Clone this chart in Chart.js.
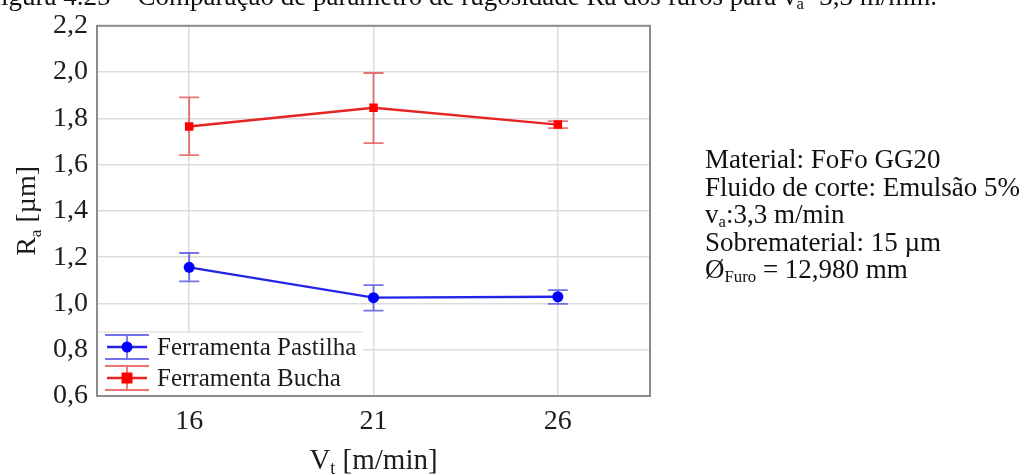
<!DOCTYPE html>
<html>
<head>
<meta charset="utf-8">
<script src="https://cdn.jsdelivr.net/npm/chart.js@4.4.1/dist/chart.umd.min.js"></script>
<style>
  body { margin: 0; background: #fff; }
  #wrap { position: relative; width: 1029px; height: 475px; overflow: hidden; font-family: "Liberation Serif", "Times New Roman", serif; }
  #caption { position: absolute; left: -14px; top: -17px; font-size: 27px; line-height: 27px; white-space: nowrap; color: #111; }
  #info { position: absolute; left: 705px; top: 146px; font-size: 27px; line-height: 27.5px; color: #111; white-space: nowrap; }
  sub { font-size: 0.62em; vertical-align: -0.25em; line-height: 0; }
  canvas { position: absolute; left: 0; top: 0; }
</style>
</head>
<body>
<div id="wrap">
  <canvas id="chart" width="1029" height="475"></canvas>
  <div id="caption">Figura 4.25 – Comparação de parâmetro de rugosidade Ra dos furos para v<sub>a</sub>=3,3 m/min.</div>
  <div id="info">
    Material: FoFo GG20<br>
    Fluido de corte: Emulsão 5%<br>
    v<sub>a</sub>:3,3 m/min<br>
    Sobrematerial: 15 µm<br>
    Ø<sub>Furo</sub> = 12,980 mm
  </div>
</div>
<script>
// cutting speed V_t [m/min]
const vt = [16, 21, 26];

// Ra [µm] means and error bar limits
const pastilha = [1.156, 1.025, 1.029];
const pastilhaLow = [1.095, 0.969, 0.998];
const pastilhaHigh = [1.218, 1.079, 1.058];

const bucha = [1.765, 1.846, 1.773];
const buchaLow = [1.641, 1.693, 1.758];
const buchaHigh = [1.891, 1.996, 1.788];

const serif = '"Liberation Serif", "Times New Roman", serif';
const textColor = '#1c1c1c';

function toPoints(ys) {
  return vt.map((x, i) => ({ x: x, y: ys[i] }));
}

// writes a label made of normal/subscript pieces, centred on (cx, cy)
function drawRich(ctx, parts, cx, cy, size, rotate) {
  ctx.save();
  ctx.translate(cx, cy);
  if (rotate) ctx.rotate(-Math.PI / 2);
  ctx.fillStyle = textColor;
  ctx.textBaseline = 'middle';
  ctx.textAlign = 'left';
  let total = 0;
  parts.forEach(p => {
    ctx.font = (p.sub ? size * 0.62 : size) + 'px ' + serif;
    p.w = ctx.measureText(p.t).width;
    total += p.w;
  });
  let x = -total / 2;
  parts.forEach(p => {
    ctx.font = (p.sub ? size * 0.62 : size) + 'px ' + serif;
    ctx.fillText(p.t, x, p.sub ? size * 0.3 : 0);
    x += p.w;
  });
  ctx.restore();
}

const errorBars = {
  id: 'errorBars',
  beforeDatasetsDraw(chart) {
    const { ctx, scales: { x, y } } = chart;
    chart.data.datasets.forEach(ds => {
      ctx.save();
      ctx.strokeStyle = ds.errColor;
      ctx.lineWidth = 1.8;
      ds.data.forEach((p, i) => {
        const px = x.getPixelForValue(p.x);
        const lo = y.getPixelForValue(ds.errLow[i]);
        const hi = y.getPixelForValue(ds.errHigh[i]);
        ctx.beginPath();
        ctx.moveTo(px, lo); ctx.lineTo(px, hi);
        ctx.moveTo(px - 10, lo); ctx.lineTo(px + 10, lo);
        ctx.moveTo(px - 10, hi); ctx.lineTo(px + 10, hi);
        ctx.stroke();
      });
      ctx.restore();
    });
  }
};

const frameAndLegend = {
  id: 'frameAndLegend',
  afterDraw(chart) {
    const { ctx, chartArea: a } = chart;
    ctx.save();

    // legend box in the lower left corner
    const lx = a.left, ly = a.bottom - 64, lw = 266, lh = 64;
    ctx.fillStyle = '#fff';
    ctx.fillRect(lx, ly, lw, lh);
    ctx.strokeStyle = '#d8d8d8';
    ctx.lineWidth = 1.2;
    ctx.beginPath();
    ctx.moveTo(lx, ly); ctx.lineTo(lx + lw, ly);
    ctx.stroke();

    chart.data.datasets.forEach((ds, i) => {
      const cy = ly + 15 + i * 31;
      const x0 = lx + 10, x1 = lx + 50, cx = (x0 + x1) / 2;
      ctx.strokeStyle = ds.errColor;
      ctx.lineWidth = 1.8;
      ctx.beginPath();
      ctx.moveTo(x0 - 2, cy - 12); ctx.lineTo(x1 + 2, cy - 12);
      ctx.moveTo(x0 - 2, cy + 12); ctx.lineTo(x1 + 2, cy + 12);
      ctx.moveTo(cx, cy - 12); ctx.lineTo(cx, cy + 12);
      ctx.stroke();
      ctx.strokeStyle = ds.borderColor;
      ctx.lineWidth = 2.4;
      ctx.beginPath();
      ctx.moveTo(x0, cy); ctx.lineTo(x1, cy);
      ctx.stroke();
      ctx.fillStyle = ds.pointBackgroundColor;
      if (ds.pointStyle === 'rect') {
        ctx.fillRect(cx - 5.5, cy - 5.5, 11, 11);
      } else {
        ctx.beginPath();
        ctx.arc(cx, cy, 5.5, 0, Math.PI * 2);
        ctx.fill();
      }
      ctx.fillStyle = textColor;
      ctx.font = '25px ' + serif;
      ctx.textBaseline = 'middle';
      ctx.fillText(ds.label, lx + 60, cy + 1);
    });

    // plot frame
    ctx.strokeStyle = '#8c8c8c';
    ctx.lineWidth = 2;
    ctx.strokeRect(a.left, a.top, a.right - a.left, a.bottom - a.top);
    ctx.restore();

    // axis titles
    drawRich(ctx, [{ t: 'R' }, { t: 'a', sub: true }, { t: ' [µm]' }], 28, (a.top + a.bottom) / 2, 28, true);
    drawRich(ctx, [{ t: 'V' }, { t: 't', sub: true }, { t: ' [m/min]' }], (a.left + a.right) / 2, 461, 29, false);
  }
};

new Chart(document.getElementById('chart'), {
  type: 'line',
  data: {
    datasets: [
      {
        label: 'Ferramenta Pastilha',
        data: toPoints(pastilha),
        errLow: pastilhaLow,
        errHigh: pastilhaHigh,
        borderColor: '#2424e8',
        errColor: 'rgba(70, 70, 225, 0.75)',
        borderWidth: 2.4,
        pointStyle: 'circle',
        pointRadius: 5.5,
        pointBackgroundColor: '#0000ff',
        pointBorderWidth: 0
      },
      {
        label: 'Ferramenta Bucha',
        data: toPoints(bucha),
        errLow: buchaLow,
        errHigh: buchaHigh,
        borderColor: '#e62424',
        errColor: 'rgba(225, 70, 70, 0.75)',
        borderWidth: 2.4,
        pointStyle: 'rect',
        pointRadius: 6,
        pointBackgroundColor: '#ff0000',
        pointBorderWidth: 0
      }
    ]
  },
  options: {
    responsive: false,
    animation: false,
    events: [],
    layout: { padding: { left: 0, top: 16, right: 379, bottom: 0 } },
    plugins: { legend: { display: false }, tooltip: { enabled: false } },
    scales: {
      x: {
        type: 'linear',
        min: 13.5,
        max: 28.5,
        afterFit(scale) { scale.height = 79; },
        afterBuildTicks(scale) { scale.ticks = vt.map(v => ({ value: v })); },
        grid: { color: '#dcdcdc', lineWidth: 1.5, drawTicks: false },
        border: { display: false },
        ticks: { padding: 9, color: textColor, font: { family: serif, size: 28 } }
      },
      y: {
        min: 0.6,
        max: 2.2,
        afterFit(scale) { scale.width = 97; },
        grid: { color: '#dcdcdc', lineWidth: 1.5, drawTicks: false },
        border: { display: false },
        ticks: {
          stepSize: 0.2,
          padding: 9,
          color: textColor,
          font: { family: serif, size: 28 },
          callback: v => v.toFixed(1).replace('.', ',')
        }
      }
    }
  },
  plugins: [errorBars, frameAndLegend]
});
</script>
</body>
</html>
